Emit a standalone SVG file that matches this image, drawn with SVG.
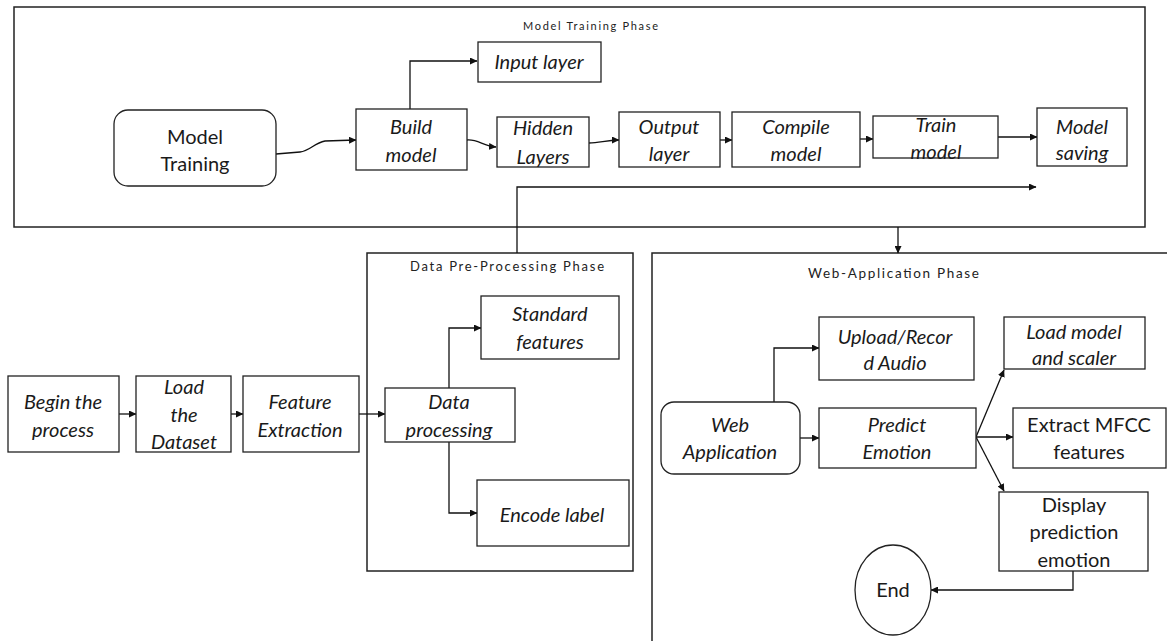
<svg xmlns="http://www.w3.org/2000/svg" width="1167" height="641" viewBox="0 0 1167 641">
<style>
.frame{fill:none;stroke:#222;stroke-width:1.5}
.box{fill:#fff;stroke:#222;stroke-width:1.3}
.t{font-family:Lato,"Open Sans","DejaVu Sans",sans-serif;font-size:20px;fill:#1a1a1a;text-anchor:middle}
.i{font-style:italic}
.title{font-family:Lato,"DejaVu Sans",sans-serif;fill:#222}
.c{fill:none;stroke:#111;stroke-width:1.3}
</style>
<defs>
<marker id="ah" markerWidth="8" markerHeight="7" refX="7" refY="3.5" orient="auto" markerUnits="userSpaceOnUse">
<path d="M0,0 L7.5,3.5 L0,7 z" fill="#111"/>
</marker>
</defs>
<rect width="1167" height="641" fill="#fff"/>

<g id="phase-model-training">
<rect class="frame" x="14" y="7" width="1131" height="220"/>
<text class="title" x="523" y="30" font-size="11" textLength="135" lengthAdjust="spacing">Model Training Phase</text>
</g>
<g id="phase-data">
<rect class="frame" x="367" y="253" width="266" height="318"/>
<text class="title" x="410" y="271" font-size="13" textLength="194" lengthAdjust="spacing">Data Pre-Processing Phase</text>
</g>
<g id="phase-web">
<path class="frame" d="M1167,253 H652 V641"/>
<text class="title" x="808" y="278" font-size="13.5" textLength="171" lengthAdjust="spacing">Web-Application Phase</text>
</g>

<g id="connectors">
<path class="c" d="M276,154 L300,152 C310,151 314,143 325,141 L356,140" marker-end="url(#ah)"/>
<path class="c" d="M410,109 V61 H477" marker-end="url(#ah)"/>
<path class="c" d="M467,140 C478,139 483,146 496,147" marker-end="url(#ah)"/>
<path class="c" d="M589,143 C600,143 606,140 619,140" marker-end="url(#ah)"/>
<path class="c" d="M720,140 H732" marker-end="url(#ah)"/>
<path class="c" d="M860,139 H873" marker-end="url(#ah)"/>
<path class="c" d="M998,137 H1037" marker-end="url(#ah)"/>
<path class="c" d="M517,253 V187 H1036" marker-end="url(#ah)"/>
<path class="c" d="M898,227 V253" marker-end="url(#ah)"/>
<path class="c" d="M119,414 H136" marker-end="url(#ah)"/>
<path class="c" d="M231,414 H243" marker-end="url(#ah)"/>
<path class="c" d="M359,414 H385" marker-end="url(#ah)"/>
<path class="c" d="M449,388 V328 H481" marker-end="url(#ah)"/>
<path class="c" d="M449,442 V513 H477" marker-end="url(#ah)"/>
<path class="c" d="M774,402 V348 H819" marker-end="url(#ah)"/>
<path class="c" d="M800,438 H819" marker-end="url(#ah)"/>
<path class="c" d="M976,437 L1004,370" marker-end="url(#ah)"/>
<path class="c" d="M976,437 H1013" marker-end="url(#ah)"/>
<path class="c" d="M976,437 L1004,491" marker-end="url(#ah)"/>
<path class="c" d="M1073,571 V590 H931" marker-end="url(#ah)"/>
</g>

<g id="model-training">
<rect class="box" x="114" y="110" width="162" height="76" rx="14"/>
<text class="t" x="195" y="144">Model</text>
<text class="t" x="195" y="171">Training</text>
</g>
<g id="build-model">
<rect class="box" x="356" y="109" width="111" height="61"/>
<text class="t i" x="411" y="134">Build</text>
<text class="t i" x="411" y="162">model</text>
</g>
<g id="input-layer">
<rect class="box" x="478" y="42" width="123" height="40"/>
<text class="t i" x="539" y="69">Input layer</text>
</g>
<g id="hidden-layers">
<rect class="box" x="497" y="117" width="92" height="50"/>
<text class="t i" x="543" y="135">Hidden</text>
<text class="t i" x="543" y="164">Layers</text>
</g>
<g id="output-layer">
<rect class="box" x="619" y="112" width="101" height="55"/>
<text class="t i" x="669" y="134">Output</text>
<text class="t i" x="669" y="161">layer</text>
</g>
<g id="compile-model">
<rect class="box" x="732" y="112" width="128" height="55"/>
<text class="t i" x="796" y="134">Compile</text>
<text class="t i" x="796" y="161">model</text>
</g>
<g id="train-model">
<rect class="box" x="873" y="116" width="125" height="42"/>
<text class="t i" x="936" y="132">Train</text>
<text class="t i" x="936" y="159">model</text>
</g>
<g id="model-saving">
<rect class="box" x="1037" y="108" width="90" height="58"/>
<text class="t i" x="1082" y="134">Model</text>
<text class="t i" x="1082" y="160">saving</text>
</g>

<g id="begin-process">
<rect class="box" x="8" y="376" width="111" height="76"/>
<text class="t i" x="63" y="409">Begin the</text>
<text class="t i" x="63" y="437">process</text>
</g>
<g id="load-dataset">
<rect class="box" x="136" y="376" width="95" height="76"/>
<text class="t i" x="184" y="394">Load</text>
<text class="t i" x="184" y="422">the</text>
<text class="t i" x="184" y="449">Dataset</text>
</g>
<g id="feature-extraction">
<rect class="box" x="243" y="376" width="116" height="76"/>
<text class="t i" x="300" y="409">Feature</text>
<text class="t i" x="300" y="437">Extraction</text>
</g>
<g id="data-processing">
<rect class="box" x="385" y="388" width="130" height="54"/>
<text class="t i" x="449" y="409">Data</text>
<text class="t i" x="449" y="437">processing</text>
</g>
<g id="standard-features">
<rect class="box" x="481" y="296" width="138" height="63"/>
<text class="t i" x="550" y="321">Standard</text>
<text class="t i" x="550" y="349">features</text>
</g>
<g id="encode-label">
<rect class="box" x="477" y="480" width="152" height="66"/>
<text class="t i" x="552" y="522">Encode label</text>
</g>

<g id="upload-record">
<rect class="box" x="819" y="317" width="155" height="63"/>
<text class="t i" x="895" y="344">Upload/Recor</text>
<text class="t i" x="895" y="370">d Audio</text>
</g>
<g id="web-application">
<rect class="box" x="661" y="402" width="139" height="72" rx="13"/>
<text class="t i" x="730" y="432">Web</text>
<text class="t i" x="730" y="459">Application</text>
</g>
<g id="predict-emotion">
<rect class="box" x="819" y="408" width="157" height="60"/>
<text class="t i" x="897" y="432">Predict</text>
<text class="t i" x="897" y="459">Emotion</text>
</g>
<g id="load-model-scaler">
<rect class="box" x="1004" y="317" width="141" height="52"/>
<text class="t i" x="1074" y="339">Load model</text>
<text class="t i" x="1074" y="365">and scaler</text>
</g>
<g id="extract-mfcc">
<rect class="box" x="1013" y="408" width="153" height="60"/>
<text class="t" x="1089" y="432">Extract MFCC</text>
<text class="t" x="1089" y="459">features</text>
</g>
<g id="display-prediction">
<rect class="box" x="999" y="492" width="149" height="79"/>
<text class="t" x="1074" y="512">Display</text>
<text class="t" x="1074" y="539">prediction</text>
<text class="t" x="1074" y="567">emotion</text>
</g>
<g id="end">
<ellipse class="box" cx="893" cy="590" rx="38" ry="45"/>
<text class="t" x="893" y="597">End</text>
</g>
</svg>
